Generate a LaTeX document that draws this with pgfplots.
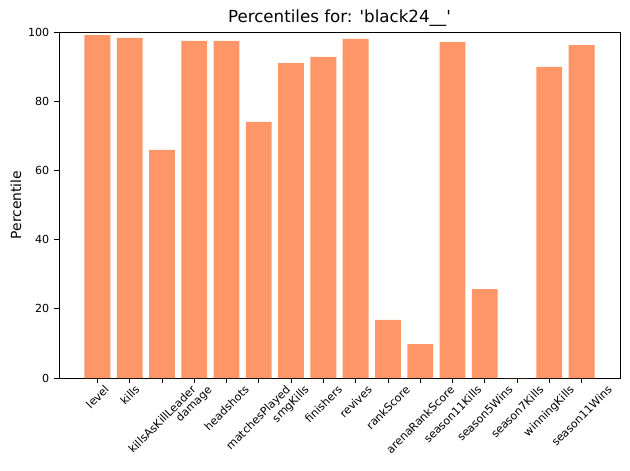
\documentclass[border=0pt]{standalone}
\usepackage{fontspec}
\setmainfont{DejaVu Sans}[Ligatures=TeXOff]
\usepackage{graphicx}
\usepackage{pgfplots}
\pgfplotsset{compat=1.18}
\definecolor{barc}{RGB}{255,150,104}
\begin{document}
\begin{tikzpicture}
\useasboundingbox (-42.48pt,-66.24pt) rectangle (411.12pt,272.16pt);
\begin{axis}[
  scale only axis,
  width=403.92pt, height=249.12pt,
  xmin=-1.19, xmax=16.19,
  ymin=0, ymax=100,
  ytick={0,20,40,60,80,100},
  xtick={0,...,15},
  xticklabels={
    \rotatebox{45}{level},
    \rotatebox{45}{kills},
    \rotatebox{45}{killsAsKillLeader},
    \rotatebox{45}{damage},
    \rotatebox{45}{headshots},
    \rotatebox{45}{matchesPlayed},
    \rotatebox{45}{smgKills},
    \rotatebox{45}{finishers},
    \rotatebox{45}{revives},
    \rotatebox{45}{rankScore},
    \rotatebox{45}{arenaRankScore},
    \rotatebox{45}{season11Kills},
    \rotatebox{45}{season5Wins},
    \rotatebox{45}{season7Kills},
    \rotatebox{45}{winningKills},
    \rotatebox{45}{season11Wins}},
  xticklabel style={anchor=north, inner sep=1pt, font=\fontsize{8}{9.6}\selectfont},
  yticklabel style={font=\fontsize{8}{9.6}\selectfont},
  /pgf/number format/assume math mode=true,
  tick align=outside,
  xtick pos=bottom, ytick pos=left,
  major tick length=3.5pt,
  tick style={black, line width=0.6pt},
  axis line style={line width=0.6pt},
  title={Percentiles for: 'black24\_\_'},
  title style={font=\fontsize{12}{14}\selectfont, yshift=-5.5pt},
  ylabel={Percentile},
  ylabel style={font=\fontsize{10}{12}\selectfont, yshift=-2pt},
  ybar, bar width=0.8, bar shift=0pt,
]
\addplot[fill=barc, draw=none] coordinates {
(0,99.1) (1,98.3) (2,65.9) (3,97.4) (4,97.4) (5,74.0) (6,91.0) (7,92.8)
(8,98.0) (9,16.8) (10,9.8) (11,97.1) (12,25.7) (13,0) (14,89.9) (15,96.2)};
\end{axis}
\end{tikzpicture}
\end{document}
